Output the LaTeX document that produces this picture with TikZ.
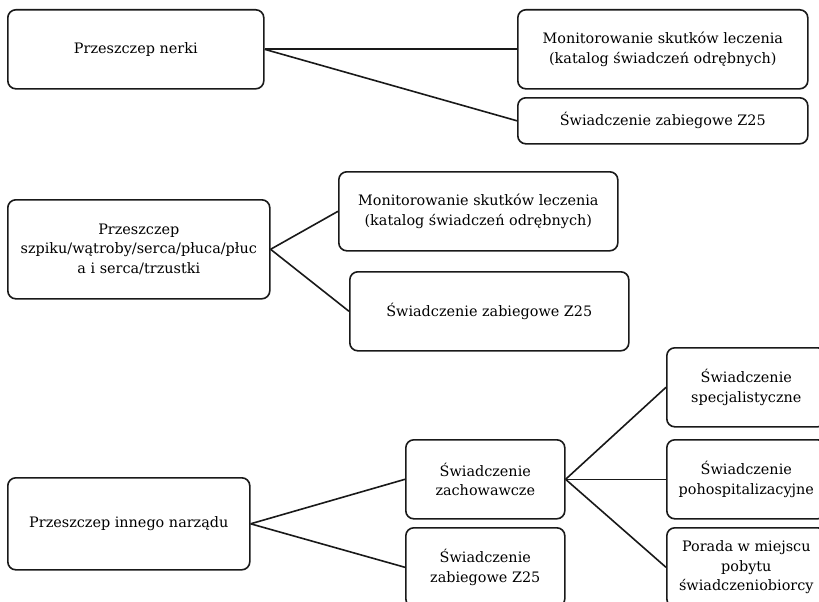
\documentclass[tikz,border=0pt]{standalone}
\usepackage{fontspec}
\setmainfont{DejaVu Serif}
\begin{document}
\begin{tikzpicture}[x=1pt,y=-1pt,
  box/.style={draw=black!90, line width=1.6pt, rounded corners=8pt, fill=white,
    anchor=north west, inner sep=0pt, align=center,
    font=\fontsize{14.4}{19.5}\selectfont},
  link/.style={draw=black!90, line width=1.6pt}]
\useasboundingbox[fill=white] (0,0) rectangle (819,602);
\begin{scope}
\clip (0,0) rectangle (819,602);
% group 1
\node[box, minimum width=256pt, minimum height=79pt] (b1) at (7,9) {Przeszczep nerki};
\node[box, minimum width=290pt, minimum height=79pt] (b2) at (517,9) {Monitorowanie skutków leczenia\\(katalog świadczeń odrębnych)};
\node[box, minimum width=290pt, minimum height=46pt] (b3) at (517,97) {Świadczenie zabiegowe Z25};
% group 2
\node[box, minimum width=262pt, minimum height=99pt] (b4) at (7,199) {Przeszczep\\szpiku/wątroby/serca/płuca/płuc\\a i serca/trzustki};
\node[box, minimum width=279pt, minimum height=79pt] (b5) at (338,171) {Monitorowanie skutków leczenia\\(katalog świadczeń odrębnych)};
\node[box, minimum width=279pt, minimum height=79pt] (b6) at (349,271) {Świadczenie zabiegowe Z25};
% group 3
\node[box, minimum width=242pt, minimum height=92pt] (b7) at (7,477) {Przeszczep innego narządu};
\node[box, minimum width=159pt, minimum height=79pt] (b8) at (405,439) {Świadczenie\\zachowawcze};
\node[box, minimum width=159pt, minimum height=79pt] (b9) at (405,527) {Świadczenie\\zabiegowe Z25};
\node[box, minimum width=159pt, minimum height=79pt] (b10) at (666,347) {Świadczenie\\specjalistyczne};
\node[box, minimum width=159pt, minimum height=79pt] (b11) at (666,439) {Świadczenie\\pohospitalizacyjne};
\node[box, minimum width=159pt, minimum height=79pt] (b12) at (666,527) {Porada w miejscu\\pobytu\\świadczeniobiorcy};
% connectors
\draw[link] (b1.east) -- (b2.west);
\draw[link] (b1.east) -- (b3.west);
\draw[link] (b4.east) -- (b5.west);
\draw[link] (b4.east) -- (b6.west);
\draw[link] (b7.east) -- (b8.west);
\draw[link] (b7.east) -- (b9.west);
\draw[link] (b8.east) -- (b10.west);
\draw[link] (b8.east) -- (b11.west);
\draw[link] (b8.east) -- (b12.west);
\end{scope}
\end{tikzpicture}
\end{document}
